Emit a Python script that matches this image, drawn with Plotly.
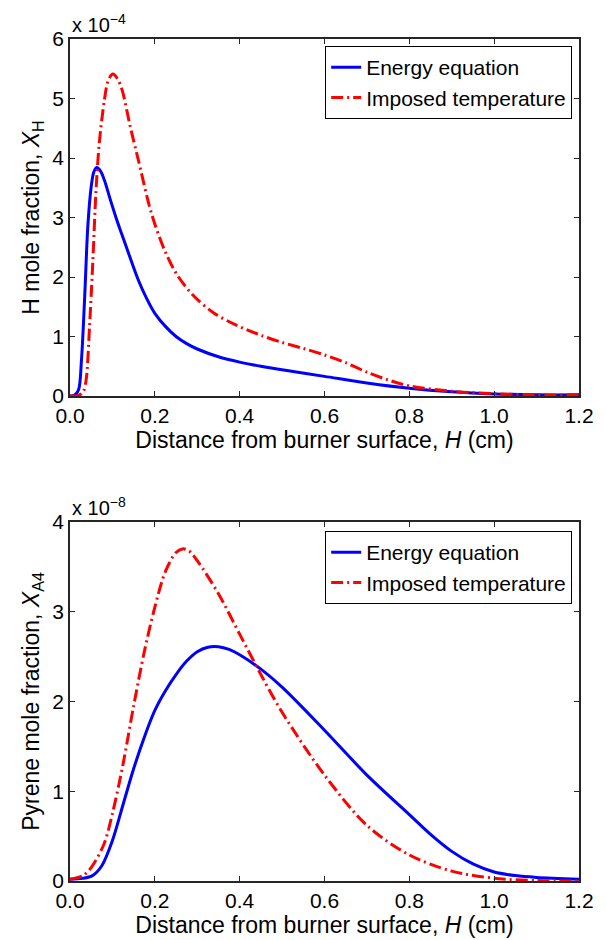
import plotly.graph_objects as go

# ---- data (top: H mole fraction, units of 1e-4) ----
h_energy_x = [0.0, 0.01, 0.02, 0.027, 0.035, 0.042, 0.05, 0.056, 0.063, 0.072, 0.081, 0.095, 0.108, 0.123,
              0.138, 0.161, 0.18, 0.2, 0.225, 0.25, 0.275, 0.3, 0.35, 0.4, 0.45, 0.5, 0.6, 0.7, 0.8, 0.9,
              1.0, 1.1, 1.2]
h_energy_y = [0.0, 0.01, 0.1, 0.6, 1.73, 2.85, 3.52, 3.76, 3.84, 3.78, 3.63, 3.3, 3.01, 2.7,
              2.40, 1.95, 1.65, 1.39, 1.17, 1.0, 0.88, 0.79, 0.66, 0.57, 0.5, 0.44, 0.33, 0.22, 0.13, 0.07,
              0.035, 0.02, 0.02]
h_imposed_x = [0.0, 0.02, 0.031, 0.038, 0.046, 0.054, 0.061, 0.069, 0.081, 0.09, 0.101, 0.112, 0.123, 0.142,
               0.161, 0.192, 0.223, 0.253, 0.292, 0.338, 0.392, 0.45, 0.5, 0.55, 0.6, 0.65, 0.7, 0.75, 0.8,
               0.9, 1.0, 1.1, 1.2]
h_imposed_y = [0.0, 0.01, 0.07, 0.27, 1.16, 2.29, 3.41, 4.25, 4.97, 5.3, 5.41, 5.33, 5.14, 4.53,
               3.97, 3.07, 2.45, 2.03, 1.68, 1.40, 1.19, 1.02, 0.9, 0.8, 0.69, 0.56, 0.4, 0.27, 0.17,
               0.08, 0.04, 0.02, 0.02]

# ---- data (bottom: pyrene mole fraction, units of 1e-8) ----
a4_energy_x = [0.0, 0.03, 0.053, 0.075, 0.1, 0.125, 0.15, 0.175, 0.2, 0.225, 0.25, 0.275, 0.3, 0.325,
               0.35, 0.375, 0.4, 0.45, 0.5, 0.6, 0.7, 0.8, 0.85, 0.9, 0.95, 1.0, 1.05, 1.1, 1.2]
a4_energy_y = [0.02, 0.03, 0.06, 0.17, 0.45, 0.85, 1.25, 1.6, 1.9, 2.12, 2.3, 2.45, 2.555, 2.605,
               2.61, 2.58, 2.52, 2.36, 2.16, 1.68, 1.18, 0.74, 0.52, 0.33, 0.19, 0.1, 0.06, 0.04, 0.02]
a4_imposed_x = [0.0, 0.03, 0.05, 0.08, 0.1, 0.125, 0.15, 0.175, 0.2, 0.225, 0.25, 0.265, 0.28, 0.3, 0.35,
                0.4, 0.45, 0.5, 0.6, 0.7, 0.8, 0.9, 1.0, 1.1, 1.2]
a4_imposed_y = [0.02, 0.06, 0.15, 0.41, 0.75, 1.3, 1.95, 2.55, 3.05, 3.45, 3.66, 3.70, 3.68, 3.57, 3.2,
                2.75, 2.3, 1.88, 1.18, 0.62, 0.29, 0.11, 0.03, 0.005, 0.0]

x_ticks = [0.0, 0.2, 0.4, 0.6, 0.8, 1.0, 1.2]
series_names = ["Energy equation", "Imposed temperature"]

BLUE = "#0000ff"
RED = "#ff0000"
FONT = "Liberation Sans, Arial, sans-serif"
AX = "#262626"
DASHDOT = "12px,4px,2px,4px"
SMOOTH = 0.9

fig = go.Figure()
fig.add_trace(go.Scatter(x=h_energy_x, y=h_energy_y, mode="lines", name=series_names[0],
                         line=dict(color=BLUE, width=3, shape="spline", smoothing=SMOOTH),
                         xaxis="x", yaxis="y", legend="legend"))
fig.add_trace(go.Scatter(x=h_imposed_x, y=h_imposed_y, mode="lines", name=series_names[1],
                         line=dict(color=RED, width=3, dash=DASHDOT, shape="spline", smoothing=SMOOTH),
                         xaxis="x", yaxis="y", legend="legend"))
fig.add_trace(go.Scatter(x=a4_energy_x, y=a4_energy_y, mode="lines", name=series_names[0],
                         line=dict(color=BLUE, width=3, shape="spline", smoothing=SMOOTH),
                         xaxis="x2", yaxis="y2", legend="legend2"))
fig.add_trace(go.Scatter(x=a4_imposed_x, y=a4_imposed_y, mode="lines", name=series_names[1],
                         line=dict(color=RED, width=3, dash=DASHDOT, shape="spline", smoothing=SMOOTH),
                         xaxis="x2", yaxis="y2", legend="legend2"))

axis_common = dict(showline=True, linecolor=AX, linewidth=1.5, mirror="ticks", ticks="inside",
                   ticklen=5, tickcolor=AX, tickwidth=1, showgrid=False, zeroline=False,
                   tickfont=dict(family=FONT, size=21, color="black"))

xtitle = "Distance from burner surface, <i>H</i> (cm)"
TF = dict(family=FONT, size=23, color="black")
LF = dict(family=FONT, size=21, color="black")
fig.update_layout(
    width=606, height=940,
    margin=dict(l=70, r=15, t=39, b=59),
    paper_bgcolor="white", plot_bgcolor="white",
    font=dict(family=FONT, color="black"),
    xaxis=dict(domain=[0, 1], anchor="y", range=[0, 1.2], tickvals=x_ticks, tickformat=".1f",
               title=dict(text=xtitle, font=TF, standoff=0), **axis_common),
    yaxis=dict(domain=[0.576, 1], anchor="x", range=[0, 6], dtick=1,
               title=dict(text="H mole fraction, <i>X</i><sub>H</sub>", font=TF, standoff=6),
               **axis_common),
    xaxis2=dict(domain=[0, 1], anchor="y2", range=[0, 1.2], tickvals=x_ticks, tickformat=".1f",
                title=dict(text=xtitle, font=TF, standoff=0), **axis_common),
    yaxis2=dict(domain=[0, 0.4264], anchor="x2", range=[0, 4], dtick=1,
                title=dict(text="Pyrene mole fraction, <i>X</i><sub>A4</sub>", font=TF, standoff=6),
                **axis_common),
    legend=dict(x=0.9866, y=0.9917, xanchor="right", yanchor="top", bgcolor="white",
                bordercolor="black", borderwidth=1, font=LF, tracegroupgap=0),
    legend2=dict(x=0.9866, y=0.4157, xanchor="right", yanchor="top", bgcolor="white",
                 bordercolor="black", borderwidth=1, font=LF, tracegroupgap=0),
    annotations=[
        dict(text="x 10<sup>\u22124</sup>", xref="x domain", yref="y domain", x=0, y=1,
             xanchor="left", yanchor="bottom", showarrow=False, yshift=1,
             font=dict(family=FONT, size=20, color="black")),
        dict(text="x 10<sup>\u22128</sup>", xref="x2 domain", yref="y2 domain", x=0, y=1,
             xanchor="left", yanchor="bottom", showarrow=False, yshift=1,
             font=dict(family=FONT, size=20, color="black")),
    ],
)

fig.write_html("out.html")
